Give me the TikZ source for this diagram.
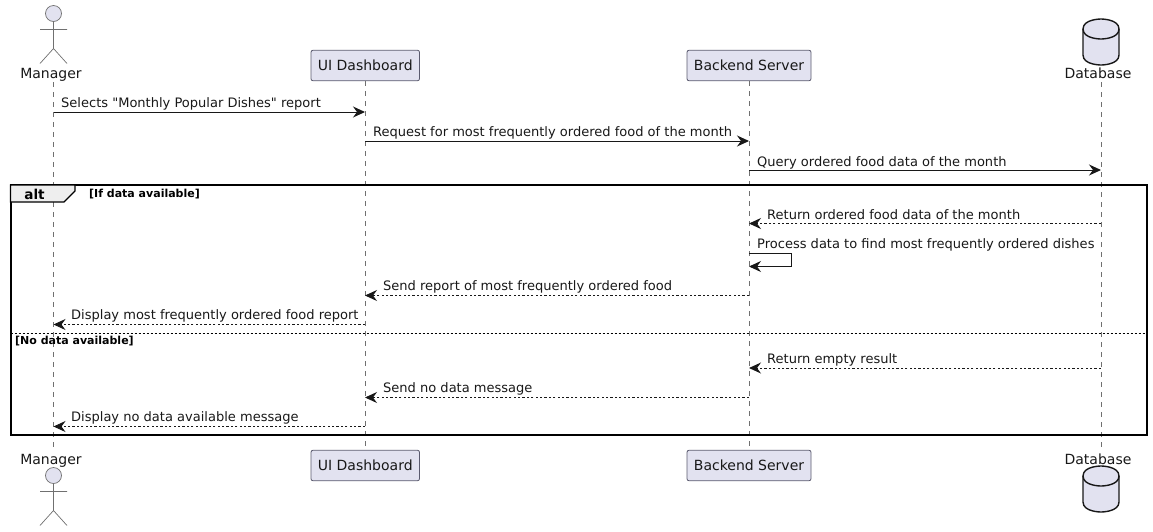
\documentclass[tikz,border=0pt]{standalone}
\usepackage{fontspec}
\setmainfont{DejaVu Sans}[Ligatures=TeXOff]
\usetikzlibrary{arrows.meta,calc}
\definecolor{partfill}{HTML}{E2E2F0}
\definecolor{partline}{HTML}{5A5A6E}
\definecolor{lifecol}{HTML}{707070}
\definecolor{ink}{HTML}{181818}
\definecolor{tabfill}{HTML}{EEEEEE}
\tikzset{
  x=1pt,y=-1pt,
  lbl/.style={font=\fontsize{13.02}{16}\selectfont,text=ink,inner sep=0pt,anchor=base west},
  actorlbl/.style={font=\fontsize{14}{16}\selectfont,text=ink,inner sep=0pt,anchor=base},
  partbox/.style={draw=partline,fill=partfill,rounded corners=2pt,line width=0.8pt,minimum height=30.5pt,inner sep=0pt,font=\fontsize{14}{16}\selectfont,text=ink,anchor=center},
  lifeline/.style={draw=lifecol,line width=0.7pt,dash pattern=on 5pt off 5pt},
  msg/.style={draw=ink,line width=1pt,-{Stealth[length=12pt,width=11pt,inset=4pt]}},
  rep/.style={msg,dash pattern=on 2.2pt off 2.2pt},
  actorline/.style={draw=lifecol,line width=0.7pt},
  dbshape/.style={draw=ink,fill=partfill,line width=1.4pt},
  framebox/.style={draw=black,line width=2pt},
  grd/.style={font=\bfseries\fontsize{11}{12}\selectfont,text=black,inner sep=0pt,anchor=base west},
}
\newcommand{\stick}[2]{%
  \draw[actorline,fill=partfill] (#1,#2) circle[radius=8];
  \draw[actorline] (#1,#2+8) -- (#1,#2+35) (#1-13.5,#2+16) -- (#1+13.5,#2+16)
    (#1-13.5,#2+50) -- (#1,#2+35) -- (#1+13.5,#2+50);
}
\newcommand{\dbcyl}[2]{%
  \draw[dbshape] (#1-18,#2+10) .. controls (#1-18,#2) and (#1,#2) .. (#1,#2)
    .. controls (#1,#2) and (#1+18,#2) .. (#1+18,#2+10)
    -- (#1+18,#2+36) .. controls (#1+18,#2+46) and (#1,#2+46) .. (#1,#2+46)
    .. controls (#1,#2+46) and (#1-18,#2+46) .. (#1-18,#2+36) -- cycle;
  \draw[dbshape,fill=none] (#1-18,#2+10) .. controls (#1-18,#2+20) and (#1,#2+20) .. (#1,#2+20)
    .. controls (#1,#2+20) and (#1+18,#2+20) .. (#1+18,#2+10);
}
\begin{document}
\begin{tikzpicture}
\useasboundingbox (0,0) rectangle (1153,531);
% participants
\node[actorlbl] (mgrT) at (51,78) {Manager};
\node[actorlbl] (mgrB) at (51,464) {Manager};
\node[partbox,minimum width=108.5pt] (uiT) at (365.25,65.5) {UI Dashboard};
\node[partbox,minimum width=108.5pt] (uiB) at (365.25,465.5) {UI Dashboard};
\node[partbox,minimum width=124pt] (beT) at (749,65.5) {Backend Server};
\node[partbox,minimum width=124pt] (beB) at (749,465.5) {Backend Server};
\node[actorlbl] (dbT) at (1098,78) {Database};
\node[actorlbl] (dbB) at (1098,464) {Database};
% lifeline anchors
\coordinate (ma) at (53.5,82);
\coordinate (mb) at (53.5,447);
\coordinate (da) at (1101,82);
\coordinate (db) at (1101,447);
\draw[lifeline] (ma) -- (mb);
\draw[lifeline] (uiT.south) -- (uiB.north);
\draw[lifeline] (beT.south) -- (beB.north);
\draw[lifeline] (da) -- (db);
\stick{53.5}{13.5}
\stick{53.5}{475.5}
\dbcyl{1101}{19}
\dbcyl{1101}{466}
% frame
\draw[framebox] (10.5,185) rectangle (1147,434.5);
\draw[line width=1.4pt,draw=black,fill=tabfill] (10.5,185) -- (75,185) -- (75,191) -- (64,202) -- (10.5,202) -- cycle;
\node[font=\bfseries\fontsize{13.6}{16}\selectfont,text=black,inner sep=0pt,anchor=base] (altl) at (34.5,199) {alt};
\node[grd] (g1) at (89,197) {[If data available]};
\coordinate (sepa) at (10.5,333);
\coordinate (sepb) at (1147,333);
\draw[draw=black,line width=1pt,dash pattern=on 2pt off 2pt] (sepa) -- (sepb);
\node[grd] (g2) at (15,344) {[No data available]};
% messages
\coordinate (m1s) at (53.5,112); \coordinate (m1e) at (365,112);
\coordinate (m2s) at (365,141); \coordinate (m2e) at (749,141);
\coordinate (m3s) at (749,170); \coordinate (m3e) at (1101,170);
\coordinate (m4s) at (1101,223.5); \coordinate (m4e) at (749,223.5);
\coordinate (m5s) at (749,253); \coordinate (m5a) at (791.5,253); \coordinate (m5b) at (791.5,266.5); \coordinate (m5e) at (749,266.5);
\coordinate (m6s) at (749,295.5); \coordinate (m6e) at (365,295.5);
\coordinate (m7s) at (365,324.5); \coordinate (m7e) at (53.5,324.5);
\coordinate (m8s) at (1101,368); \coordinate (m8e) at (749,368);
\coordinate (m9s) at (749,397.5); \coordinate (m9e) at (365,397.5);
\coordinate (m10s) at (365,426.5); \coordinate (m10e) at (53.5,426.5);
\draw[msg] (m1s) -- (m1e);
\draw[msg] (m2s) -- (m2e);
\draw[msg] (m3s) -- (m3e);
\draw[rep] (m4s) -- (m4e);
\draw[msg] (m5s) -- (m5a) -- (m5b) -- (m5e);
\draw[rep] (m6s) -- (m6e);
\draw[rep] (m7s) -- (m7e);
\draw[rep] (m8s) -- (m8e);
\draw[rep] (m9s) -- (m9e);
\draw[rep] (m10s) -- (m10e);
\node[lbl] (t1) at (61,107) {Selects "Monthly Popular Dishes" report};
\node[lbl] (t2) at (373,136) {Request for most frequently ordered food of the month};
\node[lbl] (t3) at (757,166) {Query ordered food data of the month};
\node[lbl] (t4) at (767,219) {Return ordered food data of the month};
\node[lbl] (t5) at (757,248.5) {Process data to find most frequently ordered dishes};
\node[lbl] (t6) at (383,290.5) {Send report of most frequently ordered food};
\node[lbl] (t7) at (71,319.5) {Display most frequently ordered food report};
\node[lbl] (t8) at (767,363.5) {Return empty result};
\node[lbl] (t9) at (383,392.5) {Send no data message};
\node[lbl] (t10) at (71,421.5) {Display no data available message};
\end{tikzpicture}
\end{document}
